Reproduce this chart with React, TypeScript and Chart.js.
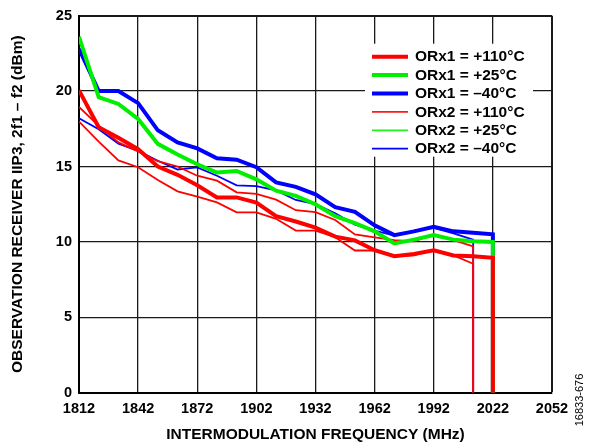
import React, { useEffect, useRef } from 'react';
import { Chart, registerables } from 'chart.js';

Chart.register(...registerables);

// ---- data ----
const freqORx1 = [1812, 1822, 1832, 1842, 1852, 1862, 1872, 1882, 1892, 1902, 1912, 1922, 1932, 1942, 1952, 1962, 1972, 1982, 1992, 2002, 2012, 2022, 2022];
const freqORx2 = [1812, 1822, 1832, 1842, 1852, 1862, 1872, 1882, 1892, 1902, 1912, 1922, 1932, 1942, 1952, 1962, 1972, 1982, 1992, 2002, 2012, 2012];

const orx1Hot = [20.05, 17.6, 16.9, 16.15, 15.0, 14.45, 13.75, 12.95, 12.95, 12.6, 11.7, 11.35, 10.95, 10.35, 10.1, 9.45, 9.05, 9.2, 9.45, 9.1, 9.05, 8.95, 0];
const orx1Room = [23.6, 19.6, 19.15, 18.15, 16.5, 15.8, 15.15, 14.6, 14.7, 14.15, 13.4, 13.05, 12.5, 11.7, 11.25, 10.7, 9.9, 10.15, 10.45, 10.15, 10.05, 10.0, 0];
const orx1Cold = [22.8, 20.0, 20.0, 19.2, 17.4, 16.6, 16.2, 15.55, 15.45, 14.95, 13.95, 13.65, 13.15, 12.3, 12.0, 11.1, 10.45, 10.7, 11.0, 10.7, 10.6, 10.5, 0];
const orx2Hot = [17.98, 16.65, 15.4, 14.95, 14.1, 13.35, 13.0, 12.62, 11.96, 11.96, 11.53, 10.75, 10.75, 10.31, 9.43, 9.43, 9.05, 9.1, 9.5, 9.1, 8.55, 0];
const orx2Room = [18.95, 17.69, 16.6, 16.0, 15.35, 15.0, 14.39, 14.06, 13.29, 13.18, 12.8, 12.1, 11.98, 11.45, 10.5, 10.3, 10.12, 10.03, 10.5, 10.12, 9.7, 0];
const orx2Cold = [18.2, 17.47, 16.52, 16.04, 15.38, 14.8, 14.94, 14.39, 13.75, 13.7, 13.42, 12.78, 12.5, 11.9, 11.15, 10.75, 10.42, 10.75, 10.93, 10.57, 10.15, 0];

const seriesLabels = ['ORx1 = +110°C', 'ORx1 = +25°C', 'ORx1 = –40°C', 'ORx2 = +110°C', 'ORx2 = +25°C', 'ORx2 = –40°C'];
const lineColors = ['#FF0000', '#00EE00', '#0000FF', '#FF0000', '#FF0000', '#0000FF'];
const legendColors = ['#FF0000', '#00EE00', '#0000FF', '#FF1A1A', '#22EE22', '#0000FF'];
const lineWidths = [4, 4, 4, 1.8, 1.8, 1.8];

const yTicks = [0, 5, 10, 15, 20, 25];
const xTicks = [1812, 1842, 1872, 1902, 1932, 1962, 1992, 2022, 2052];

const FONT = "'Liberation Sans', Arial, Helvetica, sans-serif";

const pts = (xs: number[], ys: number[]) => xs.map((x, i) => ({ x, y: ys[i] }));

const boxLegend = {
  id: 'boxLegend',
  beforeDatasetsDraw(chart: any) {
    const { ctx, chartArea } = chart;
    const boxL = chartArea.right - 187;
    const boxT = chartArea.top + 28;
    ctx.save();
    ctx.fillStyle = '#ffffff';
    ctx.fillRect(boxL, boxT, 168, 113);
    ctx.font = `bold 15.5px ${FONT}`;
    ctx.textBaseline = 'middle';
    ctx.textAlign = 'left';
    seriesLabels.forEach((label, i) => {
      const y = boxT + 13 + i * 18.4;
      ctx.strokeStyle = legendColors[i];
      ctx.lineWidth = i < 3 ? 4 : 1.8;
      ctx.beginPath();
      ctx.moveTo(boxL + 7, y);
      ctx.lineTo(boxL + 43, y);
      ctx.stroke();
      ctx.fillStyle = '#000';
      ctx.fillText(label, boxL + 50, y + 0.5);
    });
    ctx.restore();
  },
};

const sideNote = {
  id: 'sideNote',
  afterDraw(chart: any) {
    const { ctx } = chart;
    ctx.save();
    ctx.translate(580, 400);
    ctx.rotate(-Math.PI / 2);
    ctx.font = `11px ${FONT}`;
    ctx.fillStyle = '#000';
    ctx.textAlign = 'center';
    ctx.textBaseline = 'middle';
    ctx.fillText('16833-676', 0, 0);
    ctx.restore();
  },
};

export default function App() {
  const ref = useRef<HTMLCanvasElement>(null);
  useEffect(() => {
    if (!ref.current) return;
    const allY = [orx1Hot, orx1Room, orx1Cold, orx2Hot, orx2Room, orx2Cold];
    const chart = new Chart(ref.current, {
      type: 'line',
      data: {
        datasets: allY.map((vals, i) => ({
          label: seriesLabels[i],
          data: pts(i < 3 ? freqORx1 : freqORx2, vals),
          borderColor: lineColors[i],
          backgroundColor: lineColors[i],
          borderWidth: lineWidths[i],
          pointRadius: 0,
          tension: 0,
          fill: false,
        })),
      },
      options: {
        responsive: false,
        animation: false,
        events: [],
        layout: { padding: { top: 14.5, right: 45, left: 0, bottom: 0 } },
        plugins: { legend: { display: false }, tooltip: { enabled: false } },
        scales: {
          x: {
            type: 'linear',
            min: 1812,
            max: 2052,
            afterBuildTicks: (s: any) => { s.ticks = xTicks.map((v) => ({ value: v })); },
            afterFit: (s: any) => { s.height = 51.3; },
            ticks: {
              padding: 8,
              color: '#000',
              font: { family: FONT, size: 14.5, weight: 'bold' },
              callback: (v: any) => String(v),
              maxRotation: 0,
            },
            grid: {
              color: '#1a1a1a',
              lineWidth: (c: any) => (c.tick && c.tick.value === 2052 ? 2 : 1.3),
              drawTicks: false,
            },
            border: { display: true, color: '#000', width: 2 },
            title: {
              display: true,
              text: 'INTERMODULATION FREQUENCY (MHz)',
              color: '#000',
              font: { family: FONT, size: 15.5, weight: 'bold' },
              padding: { top: 0, bottom: 0 },
            },
          },
          y: {
            min: 0,
            max: 25,
            afterBuildTicks: (s: any) => { s.ticks = yTicks.map((v) => ({ value: v })); },
            afterFit: (s: any) => { s.width = 79; },
            ticks: {
              padding: 7,
              color: '#000',
              font: { family: FONT, size: 14.5, weight: 'bold' },
              callback: (v: any) => String(v),
            },
            grid: {
              color: '#1a1a1a',
              lineWidth: (c: any) => (c.tick && c.tick.value === 25 ? 2 : 1.3),
              drawTicks: false,
            },
            border: { display: true, color: '#000', width: 2 },
            title: {
              display: true,
              text: 'OBSERVATION RECEIVER IIP3, 2f1 – f2 (dBm)',
              color: '#000',
              font: { family: FONT, size: 15.5, weight: 'bold' },
              padding: { top: 8, bottom: 0 },
            },
          },
        },
      },
      plugins: [boxLegend, sideNote],
    } as any);
    return () => chart.destroy();
  }, []);
  return (
    <div style={{ position: 'absolute', left: 0, top: 0, width: 597, height: 444, background: '#fff' }}>
      <canvas ref={ref} width={597} height={444} />
    </div>
  );
}
